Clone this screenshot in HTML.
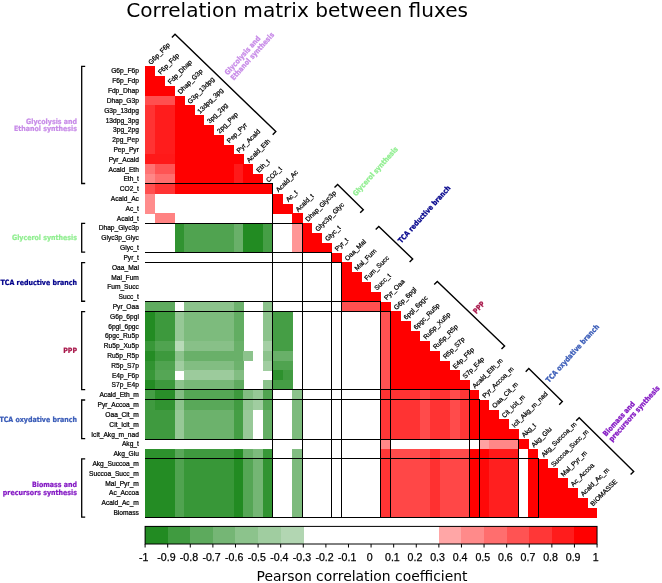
<!DOCTYPE html>
<html><head><meta charset="utf-8"><title>Correlation matrix between fluxes</title>
<style>html,body{margin:0;padding:0;background:#fff}svg{display:block}</style></head>
<body>
<svg width="662" height="583" viewBox="0 0 662 583">
<rect width="662" height="583" fill="#fff"/>
<g shape-rendering="crispEdges">
<rect x="145.10" y="66.15" width="10.12" height="10.11" fill="#ff0000"/>
<rect x="145.10" y="75.96" width="19.95" height="10.11" fill="#ff0000"/>
<rect x="145.10" y="85.78" width="29.77" height="10.11" fill="#ff0000"/>
<rect x="145.10" y="95.59" width="29.77" height="10.11" fill="#ff4f4f"/>
<rect x="174.57" y="95.59" width="10.12" height="10.11" fill="#ff0000"/>
<rect x="145.10" y="105.40" width="10.12" height="10.11" fill="#ff3333"/>
<rect x="154.92" y="105.40" width="19.95" height="10.11" fill="#ff1c1c"/>
<rect x="174.57" y="105.40" width="19.95" height="10.11" fill="#ff0000"/>
<rect x="145.10" y="115.22" width="10.12" height="10.11" fill="#ff3333"/>
<rect x="154.92" y="115.22" width="19.95" height="10.11" fill="#ff1c1c"/>
<rect x="174.57" y="115.22" width="29.77" height="10.11" fill="#ff0000"/>
<rect x="145.10" y="125.03" width="10.12" height="10.11" fill="#ff3333"/>
<rect x="154.92" y="125.03" width="19.95" height="10.11" fill="#ff1c1c"/>
<rect x="174.57" y="125.03" width="39.60" height="10.11" fill="#ff0000"/>
<rect x="145.10" y="134.84" width="10.12" height="10.11" fill="#ff3333"/>
<rect x="154.92" y="134.84" width="19.95" height="10.11" fill="#ff1c1c"/>
<rect x="174.57" y="134.84" width="49.42" height="10.11" fill="#ff0000"/>
<rect x="145.10" y="144.65" width="10.12" height="10.11" fill="#ff3333"/>
<rect x="154.92" y="144.65" width="19.95" height="10.11" fill="#ff1c1c"/>
<rect x="174.57" y="144.65" width="59.25" height="10.11" fill="#ff0000"/>
<rect x="145.10" y="154.47" width="29.77" height="10.11" fill="#ff1919"/>
<rect x="174.57" y="154.47" width="69.07" height="10.11" fill="#ff0000"/>
<rect x="145.10" y="164.28" width="10.12" height="10.11" fill="#ff7373"/>
<rect x="154.92" y="164.28" width="19.95" height="10.11" fill="#ff5454"/>
<rect x="174.57" y="164.28" width="59.25" height="10.11" fill="#ff0000"/>
<rect x="233.52" y="164.28" width="10.12" height="10.11" fill="#ff1919"/>
<rect x="243.35" y="164.28" width="10.12" height="10.11" fill="#ff0000"/>
<rect x="145.10" y="174.09" width="10.12" height="10.11" fill="#ff8787"/>
<rect x="154.92" y="174.09" width="19.95" height="10.11" fill="#ff6e6e"/>
<rect x="174.57" y="174.09" width="59.25" height="10.11" fill="#ff0000"/>
<rect x="233.52" y="174.09" width="10.12" height="10.11" fill="#ff1919"/>
<rect x="243.35" y="174.09" width="19.95" height="10.11" fill="#ff0000"/>
<rect x="145.10" y="183.91" width="10.12" height="10.11" fill="#ff4f4f"/>
<rect x="154.92" y="183.91" width="19.95" height="10.11" fill="#ff3333"/>
<rect x="174.57" y="183.91" width="98.55" height="10.11" fill="#ff0000"/>
<rect x="145.10" y="193.72" width="10.12" height="10.11" fill="#ff8c8c"/>
<rect x="272.82" y="193.72" width="10.12" height="10.11" fill="#ff0000"/>
<rect x="145.10" y="203.53" width="10.12" height="10.11" fill="#ff8c8c"/>
<rect x="272.82" y="203.53" width="19.95" height="10.11" fill="#ff0000"/>
<rect x="154.92" y="213.35" width="19.95" height="10.11" fill="#ff8282"/>
<rect x="292.48" y="213.35" width="10.12" height="10.11" fill="#ff0000"/>
<rect x="174.57" y="223.16" width="10.12" height="10.11" fill="#319331"/>
<rect x="184.40" y="223.16" width="49.42" height="10.11" fill="#50a350"/>
<rect x="233.52" y="223.16" width="10.12" height="10.11" fill="#69b069"/>
<rect x="243.35" y="223.16" width="19.95" height="10.11" fill="#228b22"/>
<rect x="263.00" y="223.16" width="10.12" height="10.11" fill="#459e45"/>
<rect x="292.48" y="223.16" width="10.12" height="10.11" fill="#ff9696"/>
<rect x="302.30" y="223.16" width="10.12" height="10.11" fill="#ff0000"/>
<rect x="174.57" y="232.97" width="10.12" height="10.11" fill="#319331"/>
<rect x="184.40" y="232.97" width="49.42" height="10.11" fill="#50a350"/>
<rect x="233.52" y="232.97" width="10.12" height="10.11" fill="#69b069"/>
<rect x="243.35" y="232.97" width="19.95" height="10.11" fill="#228b22"/>
<rect x="263.00" y="232.97" width="10.12" height="10.11" fill="#459e45"/>
<rect x="292.48" y="232.97" width="10.12" height="10.11" fill="#ff9696"/>
<rect x="302.30" y="232.97" width="19.95" height="10.11" fill="#ff0000"/>
<rect x="174.57" y="242.78" width="10.12" height="10.11" fill="#319331"/>
<rect x="184.40" y="242.78" width="49.42" height="10.11" fill="#50a350"/>
<rect x="233.52" y="242.78" width="10.12" height="10.11" fill="#69b069"/>
<rect x="243.35" y="242.78" width="19.95" height="10.11" fill="#228b22"/>
<rect x="263.00" y="242.78" width="10.12" height="10.11" fill="#459e45"/>
<rect x="292.48" y="242.78" width="10.12" height="10.11" fill="#ff9696"/>
<rect x="302.30" y="242.78" width="29.77" height="10.11" fill="#ff0000"/>
<rect x="331.77" y="252.60" width="10.12" height="10.11" fill="#ff0000"/>
<rect x="341.60" y="262.41" width="10.12" height="10.11" fill="#ff0000"/>
<rect x="341.60" y="272.22" width="19.95" height="10.11" fill="#ff0000"/>
<rect x="341.60" y="282.04" width="29.77" height="10.11" fill="#ff0000"/>
<rect x="341.60" y="291.85" width="39.60" height="10.11" fill="#ff0000"/>
<rect x="145.10" y="301.66" width="29.77" height="10.11" fill="#60ab60"/>
<rect x="184.40" y="301.66" width="49.42" height="10.11" fill="#8cc38c"/>
<rect x="233.52" y="301.66" width="10.12" height="10.11" fill="#6db26d"/>
<rect x="263.00" y="301.66" width="10.12" height="10.11" fill="#8cc38c"/>
<rect x="341.60" y="301.66" width="39.60" height="10.11" fill="#ff4f4f"/>
<rect x="380.90" y="301.66" width="10.12" height="10.11" fill="#ff0000"/>
<rect x="145.10" y="311.48" width="10.12" height="10.11" fill="#228b22"/>
<rect x="154.92" y="311.48" width="19.95" height="10.11" fill="#3d993d"/>
<rect x="174.57" y="311.48" width="10.12" height="10.11" fill="#96c896"/>
<rect x="184.40" y="311.48" width="49.42" height="10.11" fill="#7dbb7d"/>
<rect x="233.52" y="311.48" width="10.12" height="10.11" fill="#62ad62"/>
<rect x="263.00" y="311.48" width="10.12" height="10.11" fill="#8cc38c"/>
<rect x="272.82" y="311.48" width="19.95" height="10.11" fill="#459e45"/>
<rect x="380.90" y="311.48" width="10.12" height="10.11" fill="#ff5252"/>
<rect x="390.72" y="311.48" width="10.12" height="10.11" fill="#ff0000"/>
<rect x="145.10" y="321.29" width="10.12" height="10.11" fill="#228b22"/>
<rect x="154.92" y="321.29" width="19.95" height="10.11" fill="#3d993d"/>
<rect x="174.57" y="321.29" width="10.12" height="10.11" fill="#96c896"/>
<rect x="184.40" y="321.29" width="49.42" height="10.11" fill="#7dbb7d"/>
<rect x="233.52" y="321.29" width="10.12" height="10.11" fill="#62ad62"/>
<rect x="263.00" y="321.29" width="10.12" height="10.11" fill="#8cc38c"/>
<rect x="272.82" y="321.29" width="19.95" height="10.11" fill="#459e45"/>
<rect x="380.90" y="321.29" width="10.12" height="10.11" fill="#ff5252"/>
<rect x="390.72" y="321.29" width="19.95" height="10.11" fill="#ff0000"/>
<rect x="145.10" y="331.10" width="10.12" height="10.11" fill="#228b22"/>
<rect x="154.92" y="331.10" width="19.95" height="10.11" fill="#3d993d"/>
<rect x="174.57" y="331.10" width="10.12" height="10.11" fill="#96c896"/>
<rect x="184.40" y="331.10" width="49.42" height="10.11" fill="#7dbb7d"/>
<rect x="233.52" y="331.10" width="10.12" height="10.11" fill="#62ad62"/>
<rect x="263.00" y="331.10" width="10.12" height="10.11" fill="#8cc38c"/>
<rect x="272.82" y="331.10" width="19.95" height="10.11" fill="#459e45"/>
<rect x="380.90" y="331.10" width="10.12" height="10.11" fill="#ff5252"/>
<rect x="390.72" y="331.10" width="29.77" height="10.11" fill="#ff0000"/>
<rect x="145.10" y="340.91" width="10.12" height="10.11" fill="#389738"/>
<rect x="154.92" y="340.91" width="19.95" height="10.11" fill="#50a350"/>
<rect x="174.57" y="340.91" width="10.12" height="10.11" fill="#b8dab8"/>
<rect x="184.40" y="340.91" width="49.42" height="10.11" fill="#88c088"/>
<rect x="233.52" y="340.91" width="10.12" height="10.11" fill="#69b069"/>
<rect x="263.00" y="340.91" width="10.12" height="10.11" fill="#a4cfa4"/>
<rect x="272.82" y="340.91" width="19.95" height="10.11" fill="#459e45"/>
<rect x="380.90" y="340.91" width="10.12" height="10.11" fill="#ff5252"/>
<rect x="390.72" y="340.91" width="39.60" height="10.11" fill="#ff0000"/>
<rect x="145.10" y="350.73" width="10.12" height="10.11" fill="#248c24"/>
<rect x="154.92" y="350.73" width="19.95" height="10.11" fill="#3d993d"/>
<rect x="174.57" y="350.73" width="10.12" height="10.11" fill="#8cc38c"/>
<rect x="184.40" y="350.73" width="59.25" height="10.11" fill="#69b069"/>
<rect x="243.35" y="350.73" width="10.12" height="10.11" fill="#8cc38c"/>
<rect x="263.00" y="350.73" width="10.12" height="10.11" fill="#8cc38c"/>
<rect x="272.82" y="350.73" width="19.95" height="10.11" fill="#69b069"/>
<rect x="380.90" y="350.73" width="10.12" height="10.11" fill="#ff5252"/>
<rect x="390.72" y="350.73" width="49.42" height="10.11" fill="#ff0000"/>
<rect x="145.10" y="360.54" width="10.12" height="10.11" fill="#319331"/>
<rect x="154.92" y="360.54" width="19.95" height="10.11" fill="#50a350"/>
<rect x="174.57" y="360.54" width="10.12" height="10.11" fill="#a0cda0"/>
<rect x="184.40" y="360.54" width="49.42" height="10.11" fill="#82bd82"/>
<rect x="233.52" y="360.54" width="10.12" height="10.11" fill="#6db26d"/>
<rect x="263.00" y="360.54" width="10.12" height="10.11" fill="#a0cda0"/>
<rect x="272.82" y="360.54" width="19.95" height="10.11" fill="#50a350"/>
<rect x="380.90" y="360.54" width="10.12" height="10.11" fill="#ff5252"/>
<rect x="390.72" y="360.54" width="59.25" height="10.11" fill="#ff0000"/>
<rect x="145.10" y="370.35" width="10.12" height="10.11" fill="#389738"/>
<rect x="154.92" y="370.35" width="19.95" height="10.11" fill="#55a655"/>
<rect x="184.40" y="370.35" width="49.42" height="10.11" fill="#9ccb9c"/>
<rect x="233.52" y="370.35" width="10.12" height="10.11" fill="#82bd82"/>
<rect x="272.82" y="370.35" width="10.12" height="10.11" fill="#2d912d"/>
<rect x="282.65" y="370.35" width="10.12" height="10.11" fill="#419b41"/>
<rect x="380.90" y="370.35" width="10.12" height="10.11" fill="#ff5252"/>
<rect x="390.72" y="370.35" width="69.07" height="10.11" fill="#ff0000"/>
<rect x="145.10" y="380.17" width="10.12" height="10.11" fill="#248c24"/>
<rect x="154.92" y="380.17" width="19.95" height="10.11" fill="#3d993d"/>
<rect x="174.57" y="380.17" width="10.12" height="10.11" fill="#8cc38c"/>
<rect x="184.40" y="380.17" width="49.42" height="10.11" fill="#78b878"/>
<rect x="233.52" y="380.17" width="10.12" height="10.11" fill="#60ab60"/>
<rect x="263.00" y="380.17" width="10.12" height="10.11" fill="#8cc38c"/>
<rect x="272.82" y="380.17" width="19.95" height="10.11" fill="#459e45"/>
<rect x="380.90" y="380.17" width="10.12" height="10.11" fill="#ff5252"/>
<rect x="390.72" y="380.17" width="78.90" height="10.11" fill="#ff0000"/>
<rect x="145.10" y="389.98" width="10.12" height="10.11" fill="#459e45"/>
<rect x="154.92" y="389.98" width="19.95" height="10.11" fill="#298e29"/>
<rect x="174.57" y="389.98" width="10.12" height="10.11" fill="#82bd82"/>
<rect x="184.40" y="389.98" width="49.42" height="10.11" fill="#55a655"/>
<rect x="233.52" y="389.98" width="10.12" height="10.11" fill="#3d993d"/>
<rect x="243.35" y="389.98" width="10.12" height="10.11" fill="#82bd82"/>
<rect x="253.17" y="389.98" width="10.12" height="10.11" fill="#96c896"/>
<rect x="263.00" y="389.98" width="10.12" height="10.11" fill="#50a350"/>
<rect x="292.48" y="389.98" width="10.12" height="10.11" fill="#8cc38c"/>
<rect x="380.90" y="389.98" width="39.60" height="10.11" fill="#ff3333"/>
<rect x="420.20" y="389.98" width="10.12" height="10.11" fill="#ff4646"/>
<rect x="430.02" y="389.98" width="19.95" height="10.11" fill="#ff3333"/>
<rect x="449.67" y="389.98" width="10.12" height="10.11" fill="#ff4b4b"/>
<rect x="459.50" y="389.98" width="10.12" height="10.11" fill="#ff3737"/>
<rect x="469.32" y="389.98" width="10.12" height="10.11" fill="#ff0000"/>
<rect x="145.10" y="399.79" width="10.12" height="10.11" fill="#3f9a3f"/>
<rect x="154.92" y="399.79" width="19.95" height="10.11" fill="#319331"/>
<rect x="174.57" y="399.79" width="10.12" height="10.11" fill="#8cc38c"/>
<rect x="184.40" y="399.79" width="49.42" height="10.11" fill="#59a859"/>
<rect x="233.52" y="399.79" width="10.12" height="10.11" fill="#419b41"/>
<rect x="243.35" y="399.79" width="10.12" height="10.11" fill="#90c590"/>
<rect x="253.17" y="399.79" width="10.12" height="10.11" fill="#a0cda0"/>
<rect x="263.00" y="399.79" width="10.12" height="10.11" fill="#55a655"/>
<rect x="292.48" y="399.79" width="10.12" height="10.11" fill="#7dbb7d"/>
<rect x="380.90" y="399.79" width="10.12" height="10.11" fill="#ff3737"/>
<rect x="390.72" y="399.79" width="29.77" height="10.11" fill="#ff3333"/>
<rect x="420.20" y="399.79" width="10.12" height="10.11" fill="#ff4b4b"/>
<rect x="430.02" y="399.79" width="19.95" height="10.11" fill="#ff3333"/>
<rect x="449.67" y="399.79" width="10.12" height="10.11" fill="#ff4b4b"/>
<rect x="459.50" y="399.79" width="10.12" height="10.11" fill="#ff3737"/>
<rect x="469.32" y="399.79" width="19.95" height="10.11" fill="#ff0000"/>
<rect x="145.10" y="409.61" width="29.77" height="10.11" fill="#3f9a3f"/>
<rect x="174.57" y="409.61" width="10.12" height="10.11" fill="#96c896"/>
<rect x="184.40" y="409.61" width="49.42" height="10.11" fill="#6cb26c"/>
<rect x="233.52" y="409.61" width="10.12" height="10.11" fill="#459e45"/>
<rect x="243.35" y="409.61" width="10.12" height="10.11" fill="#98c998"/>
<rect x="263.00" y="409.61" width="10.12" height="10.11" fill="#64ae64"/>
<rect x="292.48" y="409.61" width="10.12" height="10.11" fill="#7dbb7d"/>
<rect x="380.90" y="409.61" width="10.12" height="10.11" fill="#ff3737"/>
<rect x="390.72" y="409.61" width="29.77" height="10.11" fill="#ff3333"/>
<rect x="420.20" y="409.61" width="10.12" height="10.11" fill="#ff4b4b"/>
<rect x="430.02" y="409.61" width="19.95" height="10.11" fill="#ff3333"/>
<rect x="449.67" y="409.61" width="10.12" height="10.11" fill="#ff4b4b"/>
<rect x="459.50" y="409.61" width="10.12" height="10.11" fill="#ff3737"/>
<rect x="469.32" y="409.61" width="29.77" height="10.11" fill="#ff0000"/>
<rect x="145.10" y="419.42" width="29.77" height="10.11" fill="#3f9a3f"/>
<rect x="174.57" y="419.42" width="10.12" height="10.11" fill="#96c896"/>
<rect x="184.40" y="419.42" width="49.42" height="10.11" fill="#6cb26c"/>
<rect x="233.52" y="419.42" width="10.12" height="10.11" fill="#459e45"/>
<rect x="243.35" y="419.42" width="10.12" height="10.11" fill="#98c998"/>
<rect x="263.00" y="419.42" width="10.12" height="10.11" fill="#64ae64"/>
<rect x="292.48" y="419.42" width="10.12" height="10.11" fill="#7dbb7d"/>
<rect x="380.90" y="419.42" width="10.12" height="10.11" fill="#ff3737"/>
<rect x="390.72" y="419.42" width="29.77" height="10.11" fill="#ff3333"/>
<rect x="420.20" y="419.42" width="10.12" height="10.11" fill="#ff4b4b"/>
<rect x="430.02" y="419.42" width="19.95" height="10.11" fill="#ff3333"/>
<rect x="449.67" y="419.42" width="10.12" height="10.11" fill="#ff4b4b"/>
<rect x="459.50" y="419.42" width="10.12" height="10.11" fill="#ff3737"/>
<rect x="469.32" y="419.42" width="39.60" height="10.11" fill="#ff0000"/>
<rect x="145.10" y="429.23" width="29.77" height="10.11" fill="#3f9a3f"/>
<rect x="174.57" y="429.23" width="10.12" height="10.11" fill="#96c896"/>
<rect x="184.40" y="429.23" width="49.42" height="10.11" fill="#6cb26c"/>
<rect x="233.52" y="429.23" width="10.12" height="10.11" fill="#459e45"/>
<rect x="243.35" y="429.23" width="10.12" height="10.11" fill="#98c998"/>
<rect x="263.00" y="429.23" width="10.12" height="10.11" fill="#64ae64"/>
<rect x="292.48" y="429.23" width="10.12" height="10.11" fill="#7dbb7d"/>
<rect x="380.90" y="429.23" width="10.12" height="10.11" fill="#ff3737"/>
<rect x="390.72" y="429.23" width="29.77" height="10.11" fill="#ff3333"/>
<rect x="420.20" y="429.23" width="10.12" height="10.11" fill="#ff4b4b"/>
<rect x="430.02" y="429.23" width="19.95" height="10.11" fill="#ff3333"/>
<rect x="449.67" y="429.23" width="10.12" height="10.11" fill="#ff4b4b"/>
<rect x="459.50" y="429.23" width="10.12" height="10.11" fill="#ff3737"/>
<rect x="469.32" y="429.23" width="49.42" height="10.11" fill="#ff0000"/>
<rect x="380.90" y="439.04" width="10.12" height="10.11" fill="#ff8787"/>
<rect x="479.15" y="439.04" width="10.12" height="10.11" fill="#ffa1a1"/>
<rect x="488.98" y="439.04" width="29.77" height="10.11" fill="#ff8787"/>
<rect x="518.45" y="439.04" width="10.12" height="10.11" fill="#ff0000"/>
<rect x="145.10" y="448.86" width="29.77" height="10.11" fill="#2d912d"/>
<rect x="174.57" y="448.86" width="10.12" height="10.11" fill="#59a859"/>
<rect x="184.40" y="448.86" width="49.42" height="10.11" fill="#3f9a3f"/>
<rect x="233.52" y="448.86" width="10.12" height="10.11" fill="#248c24"/>
<rect x="243.35" y="448.86" width="10.12" height="10.11" fill="#69b069"/>
<rect x="253.17" y="448.86" width="10.12" height="10.11" fill="#7dbb7d"/>
<rect x="263.00" y="448.86" width="10.12" height="10.11" fill="#389738"/>
<rect x="292.48" y="448.86" width="10.12" height="10.11" fill="#82bd82"/>
<rect x="380.90" y="448.86" width="10.12" height="10.11" fill="#ff3737"/>
<rect x="390.72" y="448.86" width="39.60" height="10.11" fill="#ff4b4b"/>
<rect x="430.02" y="448.86" width="10.12" height="10.11" fill="#ff3333"/>
<rect x="439.85" y="448.86" width="29.77" height="10.11" fill="#ff4b4b"/>
<rect x="469.32" y="448.86" width="19.95" height="10.11" fill="#ff0000"/>
<rect x="488.98" y="448.86" width="29.77" height="10.11" fill="#ff1919"/>
<rect x="528.27" y="448.86" width="10.12" height="10.11" fill="#ff0000"/>
<rect x="145.10" y="458.67" width="29.77" height="10.11" fill="#248c24"/>
<rect x="174.57" y="458.67" width="10.12" height="10.11" fill="#50a350"/>
<rect x="184.40" y="458.67" width="49.42" height="10.11" fill="#389738"/>
<rect x="233.52" y="458.67" width="10.12" height="10.11" fill="#228b22"/>
<rect x="243.35" y="458.67" width="10.12" height="10.11" fill="#55a655"/>
<rect x="253.17" y="458.67" width="10.12" height="10.11" fill="#74b674"/>
<rect x="263.00" y="458.67" width="10.12" height="10.11" fill="#319331"/>
<rect x="292.48" y="458.67" width="10.12" height="10.11" fill="#7dbb7d"/>
<rect x="380.90" y="458.67" width="10.12" height="10.11" fill="#ff3434"/>
<rect x="390.72" y="458.67" width="39.60" height="10.11" fill="#ff4747"/>
<rect x="430.02" y="458.67" width="10.12" height="10.11" fill="#ff3030"/>
<rect x="439.85" y="458.67" width="29.77" height="10.11" fill="#ff4747"/>
<rect x="469.32" y="458.67" width="10.12" height="10.11" fill="#ff0000"/>
<rect x="479.15" y="458.67" width="10.12" height="10.11" fill="#ff0808"/>
<rect x="488.98" y="458.67" width="29.77" height="10.11" fill="#ff1f1f"/>
<rect x="528.27" y="458.67" width="19.95" height="10.11" fill="#ff0000"/>
<rect x="145.10" y="468.48" width="29.77" height="10.11" fill="#248c24"/>
<rect x="174.57" y="468.48" width="10.12" height="10.11" fill="#50a350"/>
<rect x="184.40" y="468.48" width="49.42" height="10.11" fill="#389738"/>
<rect x="233.52" y="468.48" width="10.12" height="10.11" fill="#228b22"/>
<rect x="243.35" y="468.48" width="10.12" height="10.11" fill="#55a655"/>
<rect x="253.17" y="468.48" width="10.12" height="10.11" fill="#74b674"/>
<rect x="263.00" y="468.48" width="10.12" height="10.11" fill="#319331"/>
<rect x="292.48" y="468.48" width="10.12" height="10.11" fill="#7dbb7d"/>
<rect x="380.90" y="468.48" width="10.12" height="10.11" fill="#ff3434"/>
<rect x="390.72" y="468.48" width="39.60" height="10.11" fill="#ff4747"/>
<rect x="430.02" y="468.48" width="10.12" height="10.11" fill="#ff3030"/>
<rect x="439.85" y="468.48" width="29.77" height="10.11" fill="#ff4747"/>
<rect x="469.32" y="468.48" width="10.12" height="10.11" fill="#ff0000"/>
<rect x="479.15" y="468.48" width="10.12" height="10.11" fill="#ff0808"/>
<rect x="488.98" y="468.48" width="29.77" height="10.11" fill="#ff1f1f"/>
<rect x="528.27" y="468.48" width="29.77" height="10.11" fill="#ff0000"/>
<rect x="145.10" y="478.30" width="29.77" height="10.11" fill="#248c24"/>
<rect x="174.57" y="478.30" width="10.12" height="10.11" fill="#50a350"/>
<rect x="184.40" y="478.30" width="49.42" height="10.11" fill="#389738"/>
<rect x="233.52" y="478.30" width="10.12" height="10.11" fill="#228b22"/>
<rect x="243.35" y="478.30" width="10.12" height="10.11" fill="#55a655"/>
<rect x="253.17" y="478.30" width="10.12" height="10.11" fill="#74b674"/>
<rect x="263.00" y="478.30" width="10.12" height="10.11" fill="#319331"/>
<rect x="292.48" y="478.30" width="10.12" height="10.11" fill="#7dbb7d"/>
<rect x="380.90" y="478.30" width="10.12" height="10.11" fill="#ff3434"/>
<rect x="390.72" y="478.30" width="39.60" height="10.11" fill="#ff4747"/>
<rect x="430.02" y="478.30" width="10.12" height="10.11" fill="#ff3030"/>
<rect x="439.85" y="478.30" width="29.77" height="10.11" fill="#ff4747"/>
<rect x="469.32" y="478.30" width="10.12" height="10.11" fill="#ff0000"/>
<rect x="479.15" y="478.30" width="10.12" height="10.11" fill="#ff0808"/>
<rect x="488.98" y="478.30" width="29.77" height="10.11" fill="#ff1f1f"/>
<rect x="528.27" y="478.30" width="39.60" height="10.11" fill="#ff0000"/>
<rect x="145.10" y="488.11" width="29.77" height="10.11" fill="#248c24"/>
<rect x="174.57" y="488.11" width="10.12" height="10.11" fill="#50a350"/>
<rect x="184.40" y="488.11" width="49.42" height="10.11" fill="#389738"/>
<rect x="233.52" y="488.11" width="10.12" height="10.11" fill="#228b22"/>
<rect x="243.35" y="488.11" width="10.12" height="10.11" fill="#55a655"/>
<rect x="253.17" y="488.11" width="10.12" height="10.11" fill="#74b674"/>
<rect x="263.00" y="488.11" width="10.12" height="10.11" fill="#319331"/>
<rect x="292.48" y="488.11" width="10.12" height="10.11" fill="#7dbb7d"/>
<rect x="380.90" y="488.11" width="10.12" height="10.11" fill="#ff3434"/>
<rect x="390.72" y="488.11" width="39.60" height="10.11" fill="#ff4747"/>
<rect x="430.02" y="488.11" width="10.12" height="10.11" fill="#ff3030"/>
<rect x="439.85" y="488.11" width="29.77" height="10.11" fill="#ff4747"/>
<rect x="469.32" y="488.11" width="10.12" height="10.11" fill="#ff0000"/>
<rect x="479.15" y="488.11" width="10.12" height="10.11" fill="#ff0808"/>
<rect x="488.98" y="488.11" width="29.77" height="10.11" fill="#ff1f1f"/>
<rect x="528.27" y="488.11" width="49.42" height="10.11" fill="#ff0000"/>
<rect x="145.10" y="497.92" width="29.77" height="10.11" fill="#248c24"/>
<rect x="174.57" y="497.92" width="10.12" height="10.11" fill="#50a350"/>
<rect x="184.40" y="497.92" width="49.42" height="10.11" fill="#389738"/>
<rect x="233.52" y="497.92" width="10.12" height="10.11" fill="#228b22"/>
<rect x="243.35" y="497.92" width="10.12" height="10.11" fill="#55a655"/>
<rect x="253.17" y="497.92" width="10.12" height="10.11" fill="#74b674"/>
<rect x="263.00" y="497.92" width="10.12" height="10.11" fill="#319331"/>
<rect x="292.48" y="497.92" width="10.12" height="10.11" fill="#7dbb7d"/>
<rect x="380.90" y="497.92" width="10.12" height="10.11" fill="#ff3434"/>
<rect x="390.72" y="497.92" width="39.60" height="10.11" fill="#ff4747"/>
<rect x="430.02" y="497.92" width="10.12" height="10.11" fill="#ff3030"/>
<rect x="439.85" y="497.92" width="29.77" height="10.11" fill="#ff4747"/>
<rect x="469.32" y="497.92" width="10.12" height="10.11" fill="#ff0000"/>
<rect x="479.15" y="497.92" width="10.12" height="10.11" fill="#ff0808"/>
<rect x="488.98" y="497.92" width="29.77" height="10.11" fill="#ff1f1f"/>
<rect x="528.27" y="497.92" width="59.25" height="10.11" fill="#ff0000"/>
<rect x="145.10" y="507.74" width="29.77" height="10.11" fill="#248c24"/>
<rect x="174.57" y="507.74" width="10.12" height="10.11" fill="#50a350"/>
<rect x="184.40" y="507.74" width="49.42" height="10.11" fill="#389738"/>
<rect x="233.52" y="507.74" width="10.12" height="10.11" fill="#228b22"/>
<rect x="243.35" y="507.74" width="10.12" height="10.11" fill="#55a655"/>
<rect x="253.17" y="507.74" width="10.12" height="10.11" fill="#74b674"/>
<rect x="263.00" y="507.74" width="10.12" height="10.11" fill="#319331"/>
<rect x="292.48" y="507.74" width="10.12" height="10.11" fill="#7dbb7d"/>
<rect x="380.90" y="507.74" width="10.12" height="10.11" fill="#ff3434"/>
<rect x="390.72" y="507.74" width="39.60" height="10.11" fill="#ff4747"/>
<rect x="430.02" y="507.74" width="10.12" height="10.11" fill="#ff3030"/>
<rect x="439.85" y="507.74" width="29.77" height="10.11" fill="#ff4747"/>
<rect x="469.32" y="507.74" width="10.12" height="10.11" fill="#ff0000"/>
<rect x="479.15" y="507.74" width="10.12" height="10.11" fill="#ff0808"/>
<rect x="488.98" y="507.74" width="29.77" height="10.11" fill="#ff1f1f"/>
<rect x="528.27" y="507.74" width="69.07" height="10.11" fill="#ff0000"/>
</g>
<g stroke="#000" stroke-width="1" fill="none" shape-rendering="crispEdges">
<path d="M145.10 183.91H272.82V517.55"/>
<path d="M145.10 223.16H302.30V517.55"/>
<path d="M145.10 252.60H331.77V517.55"/>
<path d="M145.10 262.41H341.60V517.55"/>
<path d="M145.10 301.66H380.90V517.55"/>
<path d="M145.10 311.48H390.72V517.55"/>
<path d="M145.10 389.98H469.32V517.55"/>
<path d="M145.10 399.79H479.15V517.55"/>
<path d="M145.10 439.04H518.45V517.55"/>
<path d="M145.10 458.67H538.10V517.55"/>
<path d="M145.10 517.55H538.10"/>
</g>
<g font-family="'Liberation Sans', Arial, sans-serif" font-size="6.65" fill="#000" stroke="#000" stroke-width="0.22" text-anchor="end">
<text x="138.9" y="73.46">G6p_F6p</text>
<text x="138.9" y="83.27">F6p_Fdp</text>
<text x="138.9" y="93.08">Fdp_Dhap</text>
<text x="138.9" y="102.90">Dhap_G3p</text>
<text x="138.9" y="112.71">G3p_13dpg</text>
<text x="138.9" y="122.52">13dpg_3pg</text>
<text x="138.9" y="132.33">3pg_2pg</text>
<text x="138.9" y="142.15">2pg_Pep</text>
<text x="138.9" y="151.96">Pep_Pyr</text>
<text x="138.9" y="161.77">Pyr_Acald</text>
<text x="138.9" y="171.59">Acald_Eth</text>
<text x="138.9" y="181.40">Eth_t</text>
<text x="138.9" y="191.21">CO2_t</text>
<text x="138.9" y="201.03">Acald_Ac</text>
<text x="138.9" y="210.84">Ac_t</text>
<text x="138.9" y="220.65">Acald_t</text>
<text x="138.9" y="230.46">Dhap_Glyc3p</text>
<text x="138.9" y="240.28">Glyc3p_Glyc</text>
<text x="138.9" y="250.09">Glyc_t</text>
<text x="138.9" y="259.90">Pyr_t</text>
<text x="138.9" y="269.72">Oaa_Mal</text>
<text x="138.9" y="279.53">Mal_Fum</text>
<text x="138.9" y="289.34">Fum_Succ</text>
<text x="138.9" y="299.16">Succ_t</text>
<text x="138.9" y="308.97">Pyr_Oaa</text>
<text x="138.9" y="318.78">G6p_6pgl</text>
<text x="138.9" y="328.59">6pgl_6pgc</text>
<text x="138.9" y="338.41">6pgc_Ru5p</text>
<text x="138.9" y="348.22">Ru5p_Xu5p</text>
<text x="138.9" y="358.03">Ru5p_R5p</text>
<text x="138.9" y="367.85">R5p_S7p</text>
<text x="138.9" y="377.66">E4p_F6p</text>
<text x="138.9" y="387.47">S7p_E4p</text>
<text x="138.9" y="397.29">Acald_Eth_m</text>
<text x="138.9" y="407.10">Pyr_Accoa_m</text>
<text x="138.9" y="416.91">Oaa_Cit_m</text>
<text x="138.9" y="426.72">Cit_Icit_m</text>
<text x="138.9" y="436.54">Icit_Akg_m_nad</text>
<text x="138.9" y="446.35">Akg_t</text>
<text x="138.9" y="456.16">Akg_Glu</text>
<text x="138.9" y="465.98">Akg_Succoa_m</text>
<text x="138.9" y="475.79">Succoa_Succ_m</text>
<text x="138.9" y="485.60">Mal_Pyr_m</text>
<text x="138.9" y="495.42">Ac_Accoa</text>
<text x="138.9" y="505.23">Acald_Ac_m</text>
<text x="138.9" y="515.04">Biomass</text>
</g>
<g font-family="'Liberation Sans', Arial, sans-serif" font-size="6.65" fill="#000" stroke="#000" stroke-width="0.22">
<text transform="translate(150.90 64.95) rotate(-45)">G6p_F6p</text>
<text transform="translate(160.72 74.76) rotate(-45)">F6p_Fdp</text>
<text transform="translate(170.55 84.58) rotate(-45)">Fdp_Dhap</text>
<text transform="translate(180.38 94.39) rotate(-45)">Dhap_G3p</text>
<text transform="translate(190.20 104.20) rotate(-45)">G3p_13dpg</text>
<text transform="translate(200.03 114.02) rotate(-45)">13dpg_3pg</text>
<text transform="translate(209.85 123.83) rotate(-45)">3pg_2pg</text>
<text transform="translate(219.68 133.64) rotate(-45)">2pg_Pep</text>
<text transform="translate(229.50 143.45) rotate(-45)">Pep_Pyr</text>
<text transform="translate(239.32 153.27) rotate(-45)">Pyr_Acald</text>
<text transform="translate(249.15 163.08) rotate(-45)">Acald_Eth</text>
<text transform="translate(258.97 172.89) rotate(-45)">Eth_t</text>
<text transform="translate(268.80 182.71) rotate(-45)">CO2_t</text>
<text transform="translate(278.62 192.52) rotate(-45)">Acald_Ac</text>
<text transform="translate(288.45 202.33) rotate(-45)">Ac_t</text>
<text transform="translate(298.28 212.15) rotate(-45)">Acald_t</text>
<text transform="translate(308.10 221.96) rotate(-45)">Dhap_Glyc3p</text>
<text transform="translate(317.93 231.77) rotate(-45)">Glyc3p_Glyc</text>
<text transform="translate(327.75 241.58) rotate(-45)">Glyc_t</text>
<text transform="translate(337.57 251.40) rotate(-45)">Pyr_t</text>
<text transform="translate(347.40 261.21) rotate(-45)">Oaa_Mal</text>
<text transform="translate(357.22 271.02) rotate(-45)">Mal_Fum</text>
<text transform="translate(367.05 280.84) rotate(-45)">Fum_Succ</text>
<text transform="translate(376.88 290.65) rotate(-45)">Succ_t</text>
<text transform="translate(386.70 300.46) rotate(-45)">Pyr_Oaa</text>
<text transform="translate(396.52 310.28) rotate(-45)">G6p_6pgl</text>
<text transform="translate(406.35 320.09) rotate(-45)">6pgl_6pgc</text>
<text transform="translate(416.18 329.90) rotate(-45)">6pgc_Ru5p</text>
<text transform="translate(426.00 339.71) rotate(-45)">Ru5p_Xu5p</text>
<text transform="translate(435.82 349.53) rotate(-45)">Ru5p_R5p</text>
<text transform="translate(445.65 359.34) rotate(-45)">R5p_S7p</text>
<text transform="translate(455.47 369.15) rotate(-45)">E4p_F6p</text>
<text transform="translate(465.30 378.97) rotate(-45)">S7p_E4p</text>
<text transform="translate(475.12 388.78) rotate(-45)">Acald_Eth_m</text>
<text transform="translate(484.95 398.59) rotate(-45)">Pyr_Accoa_m</text>
<text transform="translate(494.78 408.41) rotate(-45)">Oaa_Cit_m</text>
<text transform="translate(504.60 418.22) rotate(-45)">Cit_Icit_m</text>
<text transform="translate(514.42 428.03) rotate(-45)">Icit_Akg_m_nad</text>
<text transform="translate(524.25 437.84) rotate(-45)">Akg_t</text>
<text transform="translate(534.07 447.66) rotate(-45)">Akg_Glu</text>
<text transform="translate(543.90 457.47) rotate(-45)">Akg_Succoa_m</text>
<text transform="translate(553.72 467.28) rotate(-45)">Succoa_Succ_m</text>
<text transform="translate(563.55 477.10) rotate(-45)">Mal_Pyr_m</text>
<text transform="translate(573.37 486.91) rotate(-45)">Ac_Accoa</text>
<text transform="translate(583.20 496.72) rotate(-45)">Acald_Ac_m</text>
<text transform="translate(593.02 506.54) rotate(-45)">BIOMASSE</text>
</g>
<g stroke="#000" stroke-width="1.3" fill="none">
<path d="M85.2 66.35H81.7V183.51H85.2"/>
<path d="M85.2 223.36H81.7V252.20H85.2"/>
<path d="M85.2 262.61H81.7V301.26H85.2"/>
<path d="M85.2 311.68H81.7V389.58H85.2"/>
<path d="M85.2 399.99H81.7V438.64H85.2"/>
<path d="M85.2 458.87H81.7V517.15H85.2"/>
</g>
<g font-family="'DejaVu Sans', Verdana, sans-serif" font-weight="bold" font-size="7.3" text-anchor="end">
<text transform="translate(77 123.58) scale(0.865 1)" fill="#c88ce8" stroke="#c88ce8" stroke-width="0.25">Glycolysis and</text>
<text transform="translate(77 131.48) scale(0.865 1)" fill="#c88ce8" stroke="#c88ce8" stroke-width="0.25">Ethanol synthesis</text>
<text transform="translate(77 240.38) scale(0.865 1)" fill="#90ee90" stroke="#90ee90" stroke-width="0.25">Glycerol synthesis</text>
<text transform="translate(77 284.54) scale(0.865 1)" fill="#00008b" stroke="#00008b" stroke-width="0.25">TCA reductive branch</text>
<text transform="translate(77 353.23) scale(0.865 1)" fill="#a8174a" stroke="#a8174a" stroke-width="0.25">PPP</text>
<text transform="translate(77 421.92) scale(0.865 1)" fill="#3a5cb8" stroke="#3a5cb8" stroke-width="0.25">TCA oxydative branch</text>
<text transform="translate(77 486.66) scale(0.865 1)" fill="#8418c4" stroke="#8418c4" stroke-width="0.25">Biomass and</text>
<text transform="translate(77 494.56) scale(0.865 1)" fill="#8418c4" stroke="#8418c4" stroke-width="0.25">precursors synthesis</text>
</g>
<g stroke="#000" stroke-width="1.4" fill="none">
<path d="M171.9 37.4L175.0 34.3L275.8 131.6L272.7 134.7"/>
<path d="M334.5 187.6L337.6 184.5L363.3 209.7L360.2 212.8"/>
<path d="M375.7 229.6L378.8 226.5L412.7 259.0L409.6 262.1"/>
<path d="M434.2 284.6L437.3 281.5L504.6 345.9L501.5 349.0"/>
<path d="M525.7 371.7L528.8 368.6L562.3 401.6L559.2 404.7"/>
<path d="M576.1 420.8L579.2 417.7L633.7 471.5L630.6 474.6"/>
</g>
<g font-family="'DejaVu Sans', Verdana, sans-serif" font-weight="bold" font-size="7.3">
<g transform="translate(227.8 75.4) rotate(-48) scale(0.840 1)" fill="#c88ce8" stroke="#c88ce8" stroke-width="0.3">
<text x="0" y="0.00">Glycolysis and</text>
<text x="0" y="7.90">Ethanol synthesis</text>
</g>
<g transform="translate(356.1 196.5) rotate(-48) scale(0.840 1)" fill="#90ee90" stroke="#90ee90" stroke-width="0.3">
<text x="0" y="0.00">Glycerol synthesis</text>
</g>
<g transform="translate(401.3 243.5) rotate(-48) scale(0.840 1)" fill="#00008b" stroke="#00008b" stroke-width="0.3">
<text x="0" y="0.00">TCA reductive branch</text>
</g>
<g transform="translate(476.3 314.2) rotate(-48) scale(0.840 1)" fill="#a8174a" stroke="#a8174a" stroke-width="0.3">
<text x="0" y="0.00">PPP</text>
</g>
<g transform="translate(549.1 383.0) rotate(-48) scale(0.840 1)" fill="#3a5cb8" stroke="#3a5cb8" stroke-width="0.3">
<text x="0" y="0.00">TCA oxydative branch</text>
</g>
<g transform="translate(606.1 436.7) rotate(-48) scale(0.840 1)" fill="#8418c4" stroke="#8418c4" stroke-width="0.3">
<text x="0" y="0.00">Biomass and</text>
<text x="0" y="7.90">precursors synthesis</text>
</g>
</g>
<g shape-rendering="crispEdges">
<rect x="145.10" y="526.40" width="22.90" height="17.60" fill="#228b22"/>
<rect x="167.70" y="526.40" width="22.90" height="17.60" fill="#409b40"/>
<rect x="190.29" y="526.40" width="22.90" height="17.60" fill="#5daa5d"/>
<rect x="212.89" y="526.40" width="22.90" height="17.60" fill="#75b675"/>
<rect x="235.49" y="526.40" width="22.90" height="17.60" fill="#8cc38c"/>
<rect x="258.09" y="526.40" width="22.90" height="17.60" fill="#a0cda0"/>
<rect x="280.68" y="526.40" width="22.90" height="17.60" fill="#b2d6b2"/>
<rect x="438.87" y="526.40" width="22.90" height="17.60" fill="#ffa6a6"/>
<rect x="461.46" y="526.40" width="22.90" height="17.60" fill="#ff8a8a"/>
<rect x="484.06" y="526.40" width="22.90" height="17.60" fill="#ff6e6e"/>
<rect x="506.66" y="526.40" width="22.90" height="17.60" fill="#ff5353"/>
<rect x="529.26" y="526.40" width="22.90" height="17.60" fill="#ff3737"/>
<rect x="551.85" y="526.40" width="22.90" height="17.60" fill="#ff1c1c"/>
<rect x="574.45" y="526.40" width="22.90" height="17.60" fill="#ff0000"/>
</g>
<rect x="145.10" y="526.40" width="451.95" height="17.60" fill="none" stroke="#000" stroke-width="1"/>
<g stroke="#000" stroke-width="1">
<path d="M145.10 544.00v3.5"/>
<path d="M167.70 544.00v3.5"/>
<path d="M190.29 544.00v3.5"/>
<path d="M212.89 544.00v3.5"/>
<path d="M235.49 544.00v3.5"/>
<path d="M258.09 544.00v3.5"/>
<path d="M280.68 544.00v3.5"/>
<path d="M303.28 544.00v3.5"/>
<path d="M325.88 544.00v3.5"/>
<path d="M348.48 544.00v3.5"/>
<path d="M371.07 544.00v3.5"/>
<path d="M393.67 544.00v3.5"/>
<path d="M416.27 544.00v3.5"/>
<path d="M438.87 544.00v3.5"/>
<path d="M461.46 544.00v3.5"/>
<path d="M484.06 544.00v3.5"/>
<path d="M506.66 544.00v3.5"/>
<path d="M529.26 544.00v3.5"/>
<path d="M551.85 544.00v3.5"/>
<path d="M574.45 544.00v3.5"/>
<path d="M597.05 544.00v3.5"/>
</g>
<g font-family="'Liberation Sans', Arial, sans-serif" font-size="10.6" fill="#000" stroke="#000" stroke-width="0.25" text-anchor="middle">
<text x="143.80" y="561.2">-1</text>
<text x="166.40" y="561.2">-0.9</text>
<text x="188.99" y="561.2">-0.8</text>
<text x="211.59" y="561.2">-0.7</text>
<text x="234.19" y="561.2">-0.6</text>
<text x="256.79" y="561.2">-0.5</text>
<text x="279.38" y="561.2">-0.4</text>
<text x="301.98" y="561.2">-0.3</text>
<text x="324.58" y="561.2">-0.2</text>
<text x="347.18" y="561.2">-0.1</text>
<text x="369.77" y="561.2">0</text>
<text x="392.37" y="561.2">0.1</text>
<text x="414.97" y="561.2">0.2</text>
<text x="437.57" y="561.2">0.3</text>
<text x="460.16" y="561.2">0.4</text>
<text x="482.76" y="561.2">0.5</text>
<text x="505.36" y="561.2">0.6</text>
<text x="527.96" y="561.2">0.7</text>
<text x="550.55" y="561.2">0.8</text>
<text x="573.15" y="561.2">0.9</text>
<text x="595.75" y="561.2">1</text>
</g>
<text x="362" y="581.3" font-family="'DejaVu Sans', Verdana, sans-serif" font-size="13.9" text-anchor="middle" fill="#000">Pearson correlation coefficient</text>
<text x="297.1" y="16.6" font-family="'DejaVu Sans', Verdana, sans-serif" font-size="20.1" text-anchor="middle" fill="#000">Correlation matrix between fluxes</text>
</svg>
</body></html>
